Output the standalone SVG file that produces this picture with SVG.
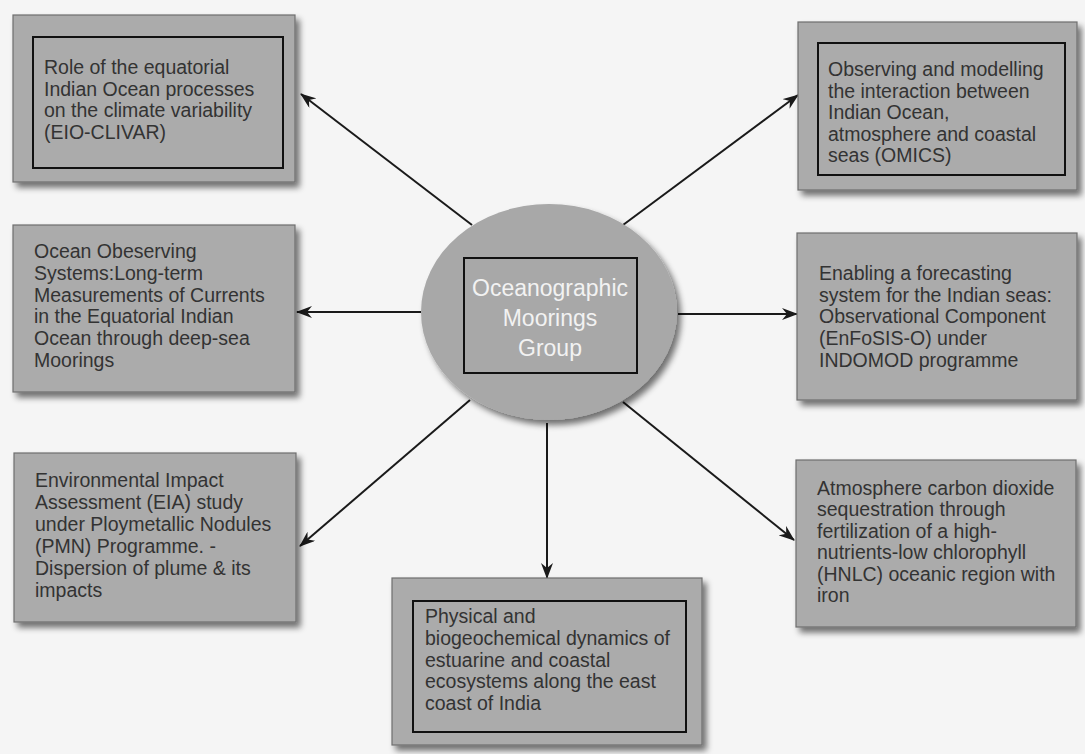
<svg xmlns="http://www.w3.org/2000/svg" width="1085" height="754" viewBox="0 0 1085 754">
<defs>
<filter id="sh" x="-10%" y="-10%" width="125%" height="130%">
<feGaussianBlur in="SourceAlpha" stdDeviation="3"/>
<feOffset dx="4" dy="5" result="b"/>
<feComponentTransfer><feFuncA type="linear" slope="0.55"/></feComponentTransfer>
<feMerge><feMergeNode/><feMergeNode in="SourceGraphic"/></feMerge>
</filter>
<marker id="ah" viewBox="0 0 16 12" refX="15" refY="6" markerWidth="16" markerHeight="12" markerUnits="userSpaceOnUse" orient="auto">
<path d="M0,0 L16,6 L0,12 L5,6 Z" fill="#1a1a1a"/>
</marker>
<style>
.box{fill:#ababab;stroke:#6e6e6e;stroke-width:1.2;filter:url(#sh)}
.inner{fill:none;stroke:#111;stroke-width:2}
.t{font-family:"Liberation Sans",Arial,sans-serif;font-size:19.5px;fill:#333}
.c{font-family:"Liberation Sans",Arial,sans-serif;font-size:23px;fill:#f2f2f2;text-anchor:middle}
.ln{stroke:#1a1a1a;stroke-width:2;fill:none;marker-end:url(#ah)}
</style>
</defs>
<rect width="1085" height="754" fill="#f5f5f5"/>

<g id="connectors">
<line class="ln" x1="472" y1="225" x2="301" y2="94"/>
<line class="ln" x1="623" y1="225" x2="798" y2="95"/>
<line class="ln" x1="421" y1="312" x2="297" y2="312"/>
<line class="ln" x1="678" y1="314" x2="797" y2="314"/>
<line class="ln" x1="470" y1="400" x2="300" y2="546"/>
<line class="ln" x1="623" y1="402" x2="794" y2="540"/>
<line class="ln" x1="547" y1="423" x2="547" y2="578"/>
</g>

<g id="center">
<ellipse cx="549" cy="312" rx="128" ry="108" fill="#a8a8a8" filter="url(#sh)"/>
<rect class="inner" x="464" y="258" width="173" height="115"/>
<text class="c" x="550" y="296">Oceanographic</text>
<text class="c" x="550" y="326">Moorings</text>
<text class="c" x="550" y="356">Group</text>
</g>

<g id="n1">
<rect class="box" x="13" y="15" width="282" height="167"/>
<rect class="inner" x="33" y="37" width="250" height="131"/>
<text class="t" x="44"><tspan x="44" y="74">Role of the equatorial</tspan><tspan x="44" y="96">Indian Ocean processes</tspan><tspan x="44" y="117">on the climate variability</tspan><tspan x="44" y="139">(EIO-CLIVAR)</tspan></text>
</g>

<g id="n2">
<rect class="box" x="798" y="22" width="279" height="168"/>
<rect class="inner" x="818" y="43" width="247" height="132"/>
<text class="t"><tspan x="828" y="76">Observing and modelling</tspan><tspan x="828" y="98">the interaction between</tspan><tspan x="828" y="119">Indian Ocean,</tspan><tspan x="828" y="141">atmosphere and coastal</tspan><tspan x="828" y="162">seas (OMICS)</tspan></text>
</g>

<g id="n3">
<rect class="box" x="13" y="225" width="282" height="167"/>
<text class="t"><tspan x="34" y="258">Ocean Obeserving</tspan><tspan x="34" y="280">Systems:Long-term</tspan><tspan x="34" y="302">Measurements of Currents</tspan><tspan x="34" y="323">in the Equatorial Indian</tspan><tspan x="34" y="345">Ocean through deep-sea</tspan><tspan x="34" y="367">Moorings</tspan></text>
</g>

<g id="n4">
<rect class="box" x="797" y="233" width="280" height="167"/>
<text class="t"><tspan x="819" y="280">Enabling a forecasting</tspan><tspan x="819" y="302">system for the Indian seas:</tspan><tspan x="819" y="323">Observational Component</tspan><tspan x="819" y="345">(EnFoSIS-O) under</tspan><tspan x="819" y="367">INDOMOD programme</tspan></text>
</g>

<g id="n5">
<rect class="box" x="14" y="453" width="282" height="169"/>
<text class="t"><tspan x="35" y="487">Environmental Impact</tspan><tspan x="35" y="509">Assessment (EIA) study</tspan><tspan x="35" y="531">under Ploymetallic Nodules</tspan><tspan x="35" y="553">(PMN) Programme. -</tspan><tspan x="35" y="575">Dispersion of plume &amp; its</tspan><tspan x="35" y="597">impacts</tspan></text>
</g>

<g id="n6">
<rect class="box" x="796" y="460" width="280" height="167"/>
<text class="t"><tspan x="817" y="495">Atmosphere carbon dioxide</tspan><tspan x="817" y="516">sequestration through</tspan><tspan x="817" y="538">fertilization of a high-</tspan><tspan x="817" y="559">nutrients-low chlorophyll</tspan><tspan x="817" y="581">(HNLC) oceanic region with</tspan><tspan x="817" y="602">iron</tspan></text>
</g>

<g id="n7">
<rect class="box" x="392" y="578" width="310" height="167"/>
<rect class="inner" x="413" y="601" width="273" height="131"/>
<text class="t"><tspan x="425" y="623">Physical and</tspan><tspan x="425" y="645">biogeochemical dynamics of</tspan><tspan x="425" y="667">estuarine and coastal</tspan><tspan x="425" y="688">ecosystems along the east</tspan><tspan x="425" y="710">coast of India</tspan></text>
</g>
</svg>
